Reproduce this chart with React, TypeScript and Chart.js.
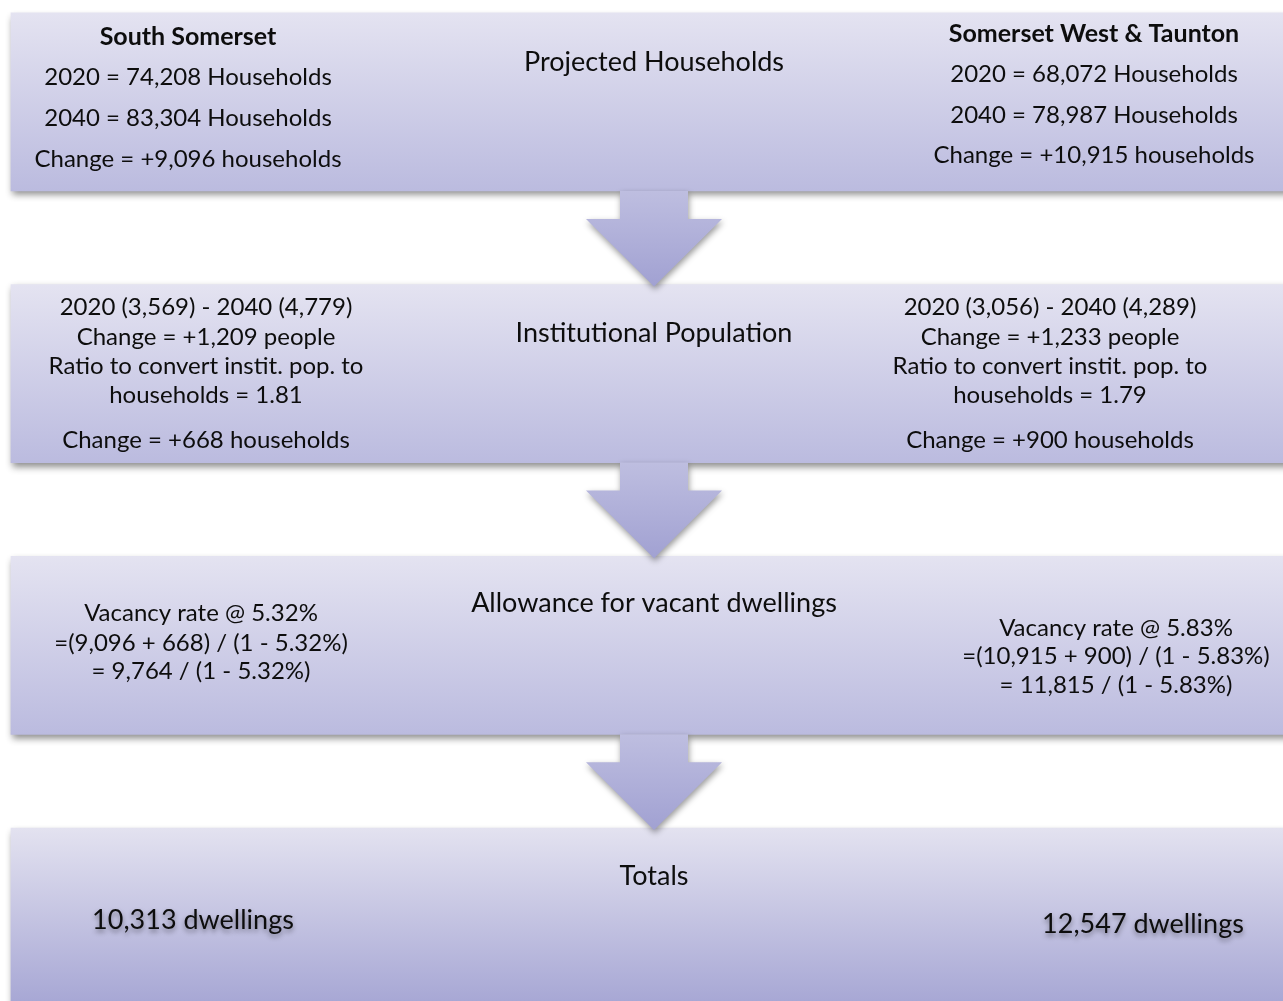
import React, { useEffect, useRef } from 'react';
import { Chart, registerables } from 'chart.js';

Chart.register(...registerables);

// ---------- data ----------
const stageTitles = ['Projected Households', 'Institutional Population', 'Allowance for vacant dwellings', 'Totals'];
const districts = ['South Somerset', 'Somerset West & Taunton'];
const households2020 = [74208, 68072];
const households2040 = [83304, 78987];
const householdChange = [9096, 10915];
const institutional2020 = [3569, 3056];
const institutional2040 = [4779, 4289];
const institutionalChange = [1209, 1233];
const conversionRatio = ['1.81', '1.79'];
const institutionalHouseholds = [668, 900];
const vacancyRate = ['5.32', '5.83'];
const subtotalHouseholds = [9764, 11815];
const totalDwellings = [10313, 12547];
const stageIndex = [0, 1, 2, 3];

// ---------- layout / style (not data) ----------
const X_MIN = 0;
const X_MAX = 1283;
const Y_MIN = -0.375;
const Y_MAX = 3.309;
const BOX_LEFT = 11;
const BOX_RIGHT = 1300;
const BOX_HALF = 89;
const ARROW_SHAFT_HALF = 34;
const ARROW_HEAD_HALF = 68;
const ARROW_SHAFT_LEN = 28;
const ARROW_X = 654;
const BOX_TOP_COLORS = ['#e4e3f1', '#e4e3f1', '#e4e3f1', '#e3e2f0'];
const BOX_BOTTOM_COLORS = ['#bbbbdf', '#bbbbdf', '#bbbbdf', '#a6a6d4'];
const FONT = 'Lato, "Open Sans", sans-serif';

const textLayout = {
  leftX: [188, 206, 201, 193],
  rightX: [1094, 1050, 1116, 1143],
  leftDy: [[-57, -17, 24, 65], [-59, -29, 0, 29, 74], [-24, 6, 34], [12]],
  rightDy: [[-60, -20, 21, 61], [-59, -29, 0, 29, 74], [-9, 19, 48], [16]],
  titleX: 654,
  titleDy: [-31, -32, -33, -32],
};

const fmt = (n: number) => String(n).replace(/\B(?=(\d{3})+(?!\d))/g, ',');

function linesFor(stage: number, d: number): string[] {
  if (stage === 0)
    return [
      districts[d],
      `2020 = ${fmt(households2020[d])} Households`,
      `2040 = ${fmt(households2040[d])} Households`,
      `Change = +${fmt(householdChange[d])} households`,
    ];
  if (stage === 1)
    return [
      `2020 (${fmt(institutional2020[d])}) - 2040 (${fmt(institutional2040[d])})`,
      `Change = +${fmt(institutionalChange[d])} people`,
      'Ratio to convert instit. pop. to',
      `households = ${conversionRatio[d]}`,
      `Change = +${fmt(institutionalHouseholds[d])} households`,
    ];
  if (stage === 2)
    return [
      `Vacancy rate @ ${vacancyRate[d]}%`,
      `=(${fmt(householdChange[d])} + ${fmt(institutionalHouseholds[d])}) / (1 - ${vacancyRate[d]}%)`,
      `= ${fmt(subtotalHouseholds[d])} / (1 - ${vacancyRate[d]}%)`,
    ];
  return [`${fmt(totalDwellings[d])} dwellings`];
}

const shadowPlugin = {
  id: 'boxShadow',
  beforeDatasetDraw(chart: any) {
    const ctx = chart.ctx;
    ctx.save();
    ctx.shadowColor = 'rgba(0,0,0,0.45)';
    ctx.shadowBlur = 7;
    ctx.shadowOffsetX = 1;
    ctx.shadowOffsetY = 4;
  },
  afterDatasetDraw(chart: any) {
    chart.ctx.restore();
  },
};

const flowPlugin = {
  id: 'flowDecor',
  afterDatasetsDraw(chart: any) {
    const ctx = chart.ctx;
    const xs = chart.scales.x;
    const ys = chart.scales.y;
    // arrows
    for (let i = 0; i < stageIndex.length - 1; i++) {
      const cx = xs.getPixelForValue(ARROW_X);
      const top = ys.getPixelForValue(stageIndex[i]) + BOX_HALF;
      const headTop = top + ARROW_SHAFT_LEN;
      const tip = ys.getPixelForValue(stageIndex[i + 1]) - BOX_HALF + 2;
      ctx.save();
      const g = ctx.createLinearGradient(0, top, 0, tip);
      g.addColorStop(0, '#bebee0');
      g.addColorStop(1, '#a1a1d2');
      ctx.fillStyle = g;
      ctx.shadowColor = 'rgba(0,0,0,0.4)';
      ctx.shadowBlur = 6;
      ctx.shadowOffsetX = 1;
      ctx.shadowOffsetY = 3;
      ctx.beginPath();
      ctx.moveTo(cx - ARROW_SHAFT_HALF, top);
      ctx.lineTo(cx + ARROW_SHAFT_HALF, top);
      ctx.lineTo(cx + ARROW_SHAFT_HALF, headTop);
      ctx.lineTo(cx + ARROW_HEAD_HALF, headTop);
      ctx.lineTo(cx, tip);
      ctx.lineTo(cx - ARROW_HEAD_HALF, headTop);
      ctx.lineTo(cx - ARROW_SHAFT_HALF, headTop);
      ctx.closePath();
      ctx.fill();
      ctx.restore();
    }
    // texts
    ctx.save();
    ctx.textAlign = 'center';
    ctx.textBaseline = 'alphabetic';
    ctx.fillStyle = '#0d0d0d';
    stageIndex.forEach((s) => {
      const cy = ys.getPixelForValue(s);
      ctx.font = `27px ${FONT}`;
      ctx.fillText(stageTitles[s], xs.getPixelForValue(textLayout.titleX), cy + textLayout.titleDy[s]);
      [0, 1].forEach((d) => {
        const lines = linesFor(s, d);
        const x = xs.getPixelForValue(d === 0 ? textLayout.leftX[s] : textLayout.rightX[s]);
        const dys = d === 0 ? textLayout.leftDy[s] : textLayout.rightDy[s];
        lines.forEach((t, li) => {
          ctx.save();
          if (s === 0 && li === 0) ctx.font = `bold 25px ${FONT}`;
          else if (s === 3) {
            ctx.font = `27px ${FONT}`;
            ctx.shadowColor = 'rgba(0,0,0,0.4)';
            ctx.shadowBlur = 5;
            ctx.shadowOffsetY = 3;
          } else ctx.font = `24px ${FONT}`;
          ctx.fillText(t, x, cy + dys[li]);
          ctx.restore();
        });
      });
    });
    ctx.restore();
  },
};

export default function App() {
  const ref = useRef<HTMLCanvasElement | null>(null);
  useEffect(() => {
    if (!ref.current) return;
    const chart = new Chart(ref.current, {
      type: 'bar',
      data: {
        datasets: [
          {
            label: 'Stages',
            data: stageIndex.map((s) => ({ x: [BOX_LEFT, BOX_RIGHT], y: s })) as any,
            backgroundColor: (c: any) => {
              const ch = c.chart;
              const ys = ch.scales && ch.scales.y;
              const i = c.dataIndex ?? 0;
              if (!ys || c.type !== 'data') return BOX_TOP_COLORS[0];
              const cy = ys.getPixelForValue(stageIndex[i]);
              if (!Number.isFinite(cy)) return BOX_TOP_COLORS[i];
              const g = ch.ctx.createLinearGradient(0, cy - BOX_HALF, 0, cy + BOX_HALF);
              g.addColorStop(0, BOX_TOP_COLORS[i]);
              g.addColorStop(1, BOX_BOTTOM_COLORS[i]);
              return g;
            },
            borderWidth: 0,
            barThickness: BOX_HALF * 2,
          } as any,
        ],
      },
      options: {
        animation: false,
        responsive: false,
        indexAxis: 'y',
        layout: { padding: 0 },
        scales: {
          x: { type: 'linear', min: X_MIN, max: X_MAX, display: false, offset: false },
          y: { type: 'linear', min: Y_MIN, max: Y_MAX, reverse: true, display: false, offset: false, grid: { offset: false } },
        },
        plugins: { legend: { display: false }, tooltip: { enabled: false }, title: { display: false } },
      } as any,
      plugins: [shadowPlugin, flowPlugin],
    });
    return () => chart.destroy();
  }, []);
  return (
    <div style={{ position: 'absolute', left: 0, top: 0, width: 1283, height: 1001, background: '#fff' }}>
      <canvas ref={ref} width={1283} height={1001} style={{ display: 'block' }} />
    </div>
  );
}
